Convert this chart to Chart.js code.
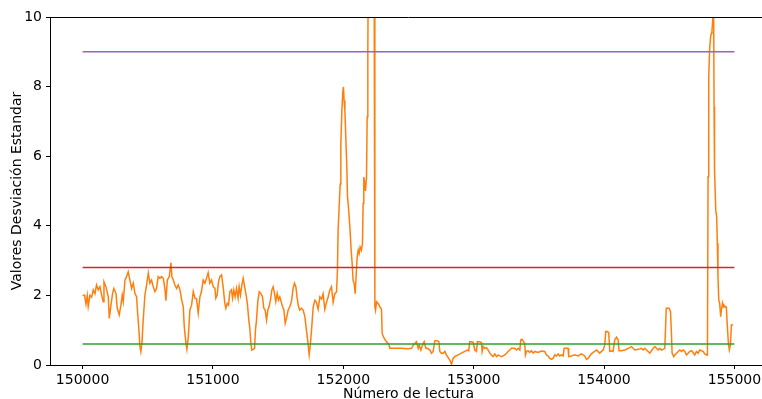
<!DOCTYPE html>
<html>
<head>
<meta charset="utf-8">
<script src="https://cdn.jsdelivr.net/npm/chart.js@4/dist/chart.umd.min.js"></script>
<style>
  html, body { margin: 0; padding: 0; background: #fff; overflow: hidden; }
</style>
</head>
<body>
<canvas id="grafico" width="767" height="399"></canvas>
<script>
// número de lectura (eje x)
const lectura = [
  150000,150015,150026,150036,150043,150056,150069,150082,150095,150107,150120,150133,150146,150158,150164,150179,150197,150205,150217,150230,
  150240,150256,150266,150281,150294,150304,150312,150325,150337,150350,150363,150376,150389,150401,150414,150422,150432,150440,150447,150455,
  150465,150478,150491,150504,150516,150529,150542,150555,150567,150580,150593,150606,150619,150631,150639,150650,150665,150678,150685,150696,
  150708,150721,150734,150747,150760,150772,150780,150793,150800,150811,150823,150836,150849,150862,150874,150887,150900,150912,150925,150938,
  150951,150963,150976,150989,151002,151015,151022,151032,151043,151053,151066,151078,151091,151099,151109,151119,151130,151142,151150,151160,
  151170,151181,151193,151201,151211,151222,151232,151245,151257,151265,151275,151283,151291,151298,151309,151319,151326,151334,151344,151355,
  151367,151380,151390,151400,151411,151421,151431,151441,151452,151462,151472,151482,151493,151503,151513,151523,151533,151544,151554,151564,
  151577,151590,151602,151615,151625,151636,151646,151656,151666,151679,151692,151705,151717,151728,151738,151748,151758,151769,151782,151794,
  151807,151820,151833,151845,151858,151871,151884,151896,151909,151922,151935,151948,151955,151960,151968,151976,151981,151989,151996,152001,
  152006,152012,152019,152027,152032,152037,152045,152052,152060,152068,152075,152083,152091,152099,152106,152114,152121,152129,152139,152147,
  152152,152157,152165,152170,152178,152183,152188,152192,152205,152225,152236,152242,152247,152255,152267,152280,152293,152298,152313,152331,
  152349,152357,152395,152446,152497,152523,152536,152549,152561,152574,152582,152595,152607,152620,152633,152646,152664,152676,152689,152702,
  152715,152733,152740,152753,152766,152779,152791,152817,152830,152842,152855,152881,152906,152932,152952,152962,152970,152983,152996,153009,
  153021,153029,153047,153060,153065,153073,153085,153098,153111,153124,153136,153149,153162,153175,153188,153200,153213,153239,153264,153277,
  153290,153315,153328,153341,153354,153361,153371,153382,153392,153397,153405,153417,153430,153443,153456,153469,153494,153520,153545,153558,
  153571,153584,153596,153609,153622,153635,153648,153660,153673,153686,153694,153704,153724,153729,153750,153775,153801,153826,153852,153865,
  153877,153890,153903,153916,153929,153941,153954,153967,153980,153993,154005,154013,154026,154036,154044,154056,154069,154082,154095,154108,
  154115,154133,154160,154185,154211,154236,154262,154287,154300,154313,154326,154338,154351,154364,154377,154390,154402,154415,154428,154441,
  154453,154466,154474,154477,154499,154510,154517,154522,154535,154543,154556,154569,154581,154594,154607,154620,154632,154645,154658,154671,
  154683,154696,154709,154722,154735,154747,154760,154772,154786,154793,154798,154803,154811,154818,154823,154828,154834,154839,154841,154844,
  154846,154849,154857,154864,154869,154874,154880,154887,154895,154900,154908,154913,154920,154931,154938,154946,154954,154961,154969,154977,
  154990
];

// desviación estándar en cada lectura
const desviacion = [
  2.00,2.01,1.75,2.00,1.68,2.00,1.95,2.16,2.05,2.30,2.16,2.25,2.01,1.82,2.39,2.25,1.96,1.34,1.70,2.06,
  2.20,2.06,1.63,1.44,1.72,2.01,1.82,2.44,2.54,2.68,2.44,2.20,2.35,2.06,1.96,1.50,1.01,0.53,0.38,0.62,
  1.29,2.01,2.30,2.64,2.35,2.44,2.25,2.11,2.20,2.54,2.49,2.54,2.49,2.20,1.85,2.44,2.54,2.94,2.54,2.44,
  2.30,2.20,2.30,2.16,1.87,1.68,1.10,0.62,0.45,0.81,1.58,1.72,2.11,1.92,1.90,1.49,1.96,2.11,2.44,2.35,
  2.49,2.65,2.35,2.44,2.25,2.20,1.92,2.01,2.40,2.54,2.59,2.25,1.77,1.63,1.77,1.72,2.11,2.16,1.92,2.16,
  1.96,2.20,1.92,2.25,2.01,2.30,2.49,2.20,1.96,1.72,1.29,1.05,0.62,0.43,0.45,0.48,1.01,1.29,1.82,2.11,
  2.06,1.96,1.63,1.58,1.29,1.58,1.68,1.87,2.16,2.25,2.06,1.82,2.06,1.87,1.96,1.82,1.68,1.58,1.20,1.34,
  1.58,1.68,1.82,2.20,2.35,2.25,1.92,1.68,1.58,1.63,1.58,1.39,1.01,0.67,0.29,0.62,1.10,1.67,1.86,1.80,
  1.60,1.96,1.90,2.05,1.60,1.80,1.96,2.15,2.25,1.80,2.05,2.10,2.72,3.87,4.54,5.20,6.36,7.32,7.84,7.99,
  7.60,7.32,6.55,5.69,4.83,4.64,4.25,3.87,3.30,2.91,2.43,2.34,2.05,2.62,3.10,3.30,3.20,3.39,3.30,3.49,
  4.64,5.40,5.21,5.00,5.40,7.13,9.04,11.5,14.0,14.0,12.0,1.67,1.57,1.82,1.77,1.67,1.60,0.90,0.77,0.67,
  0.60,0.48,0.48,0.48,0.47,0.48,0.57,0.62,0.67,0.48,0.57,0.43,0.57,0.67,0.48,0.48,0.43,0.34,0.39,0.69,
  0.70,0.67,0.39,0.34,0.34,0.39,0.29,0.14,0.02,0.19,0.24,0.29,0.34,0.39,0.43,0.41,0.67,0.67,0.65,0.43,
  0.39,0.67,0.67,0.64,0.39,0.53,0.48,0.50,0.43,0.34,0.29,0.24,0.32,0.24,0.29,0.26,0.24,0.29,0.39,0.43,
  0.48,0.48,0.43,0.48,0.43,0.72,0.74,0.67,0.62,0.29,0.39,0.41,0.36,0.41,0.34,0.39,0.36,0.40,0.39,0.29,
  0.26,0.19,0.16,0.19,0.29,0.26,0.32,0.26,0.29,0.26,0.48,0.48,0.48,0.24,0.26,0.29,0.26,0.32,0.26,0.16,
  0.19,0.26,0.32,0.36,0.39,0.43,0.39,0.34,0.39,0.43,0.57,0.96,0.96,0.93,0.39,0.41,0.39,0.72,0.80,0.72,
  0.41,0.41,0.43,0.48,0.53,0.43,0.45,0.48,0.43,0.48,0.43,0.39,0.34,0.41,0.48,0.53,0.48,0.43,0.48,0.43,
  0.45,0.48,1.29,1.63,1.63,1.53,0.91,0.34,0.24,0.29,0.34,0.39,0.43,0.39,0.43,0.39,0.29,0.34,0.39,0.41,
  0.36,0.29,0.39,0.34,0.43,0.41,0.39,0.32,0.29,0.28,5.41,8.29,9.15,9.44,9.53,9.62,9.91,10.3,10.0,7.42,
  6.37,5.60,4.45,4.26,3.50,2.54,1.87,1.77,1.39,1.58,1.77,1.67,1.72,1.67,1.67,1.10,0.62,0.43,0.57,1.15,
  1.15
];

// líneas horizontales de referencia
const umbralAlto = 9.0;
const umbralMedio = 2.8;
const umbralBajo = 0.6;
const rangoUmbral = [150000, 155000];

const ticksX = [150000, 151000, 152000, 153000, 154000, 155000];
const ticksY = [0, 2, 4, 6, 8, 10];

const fuente = { family: "'DejaVu Sans', sans-serif", size: 14 };

const puntos = lectura.map((x, i) => ({ x: x, y: desviacion[i] }));
const linea = (v) => rangoUmbral.map(x => ({ x: x, y: v }));

// marco superior (como en matplotlib)
const marco = {
  id: 'marco',
  afterDraw(chart) {
    const a = chart.chartArea;
    const ctx = chart.ctx;
    ctx.save();
    ctx.strokeStyle = '#000';
    ctx.lineWidth = 1;
    ctx.beginPath();
    ctx.moveTo(a.left, a.top + 0.5);
    ctx.lineTo(a.right, a.top + 0.5);
    ctx.moveTo(a.right - 0.5, a.top);
    ctx.lineTo(a.right - 0.5, a.bottom);
    ctx.stroke();
    ctx.restore();
  }
};

new Chart(document.getElementById('grafico'), {
  type: 'line',
  data: {
    datasets: [
      { data: linea(umbralAlto), borderColor: '#9467bd', borderWidth: 1.5, pointRadius: 0, order: 0 },
      { data: linea(umbralMedio), borderColor: '#d62728', borderWidth: 1.5, pointRadius: 0, order: 0 },
      { data: linea(umbralBajo), borderColor: '#2ca02c', borderWidth: 1.5, pointRadius: 0, order: 0 },
      { data: puntos, borderColor: '#ff7f0e', borderWidth: 1.5, pointRadius: 0, tension: 0, order: 1 }
    ]
  },
  options: {
    responsive: false,
    animation: false,
    layout: { padding: { top: 17, left: 0, right: 0, bottom: 0 } },
    plugins: { legend: { display: false }, tooltip: { enabled: false } },
    scales: {
      x: {
        type: 'linear',
        min: 149750,
        max: 155250,
        afterBuildTicks: (eje) => { eje.ticks = ticksX.map(v => ({ value: v })); },
        afterFit: (eje) => { eje.height = 34; },
        ticks: { color: '#000', font: fuente, padding: 3, maxRotation: 0, callback: (v) => String(v) },
        grid: { drawOnChartArea: false, tickLength: 4, color: '#000' },
        border: { color: '#000', width: 1 },
        title: { display: true, text: 'Número de lectura', color: '#000',
                 font: { family: fuente.family, size: 14, lineHeight: 0.7 }, padding: { top: 0, bottom: 0 } }
      },
      y: {
        min: 0,
        max: 10,
        afterBuildTicks: (eje) => { eje.ticks = ticksY.map(v => ({ value: v })); },
        afterFit: (eje) => { eje.width = 50; },
        ticks: { color: '#000', font: fuente, padding: 4, callback: (v) => String(v) },
        grid: { drawOnChartArea: false, tickLength: 4, color: '#000' },
        border: { color: '#000', width: 1 },
        title: { display: true, text: 'Valores Desviación Estandar', color: '#000', font: fuente, padding: { top: 9, bottom: 0 } }
      }
    }
  },
  plugins: [marco]
});
</script>
</body>
</html>
